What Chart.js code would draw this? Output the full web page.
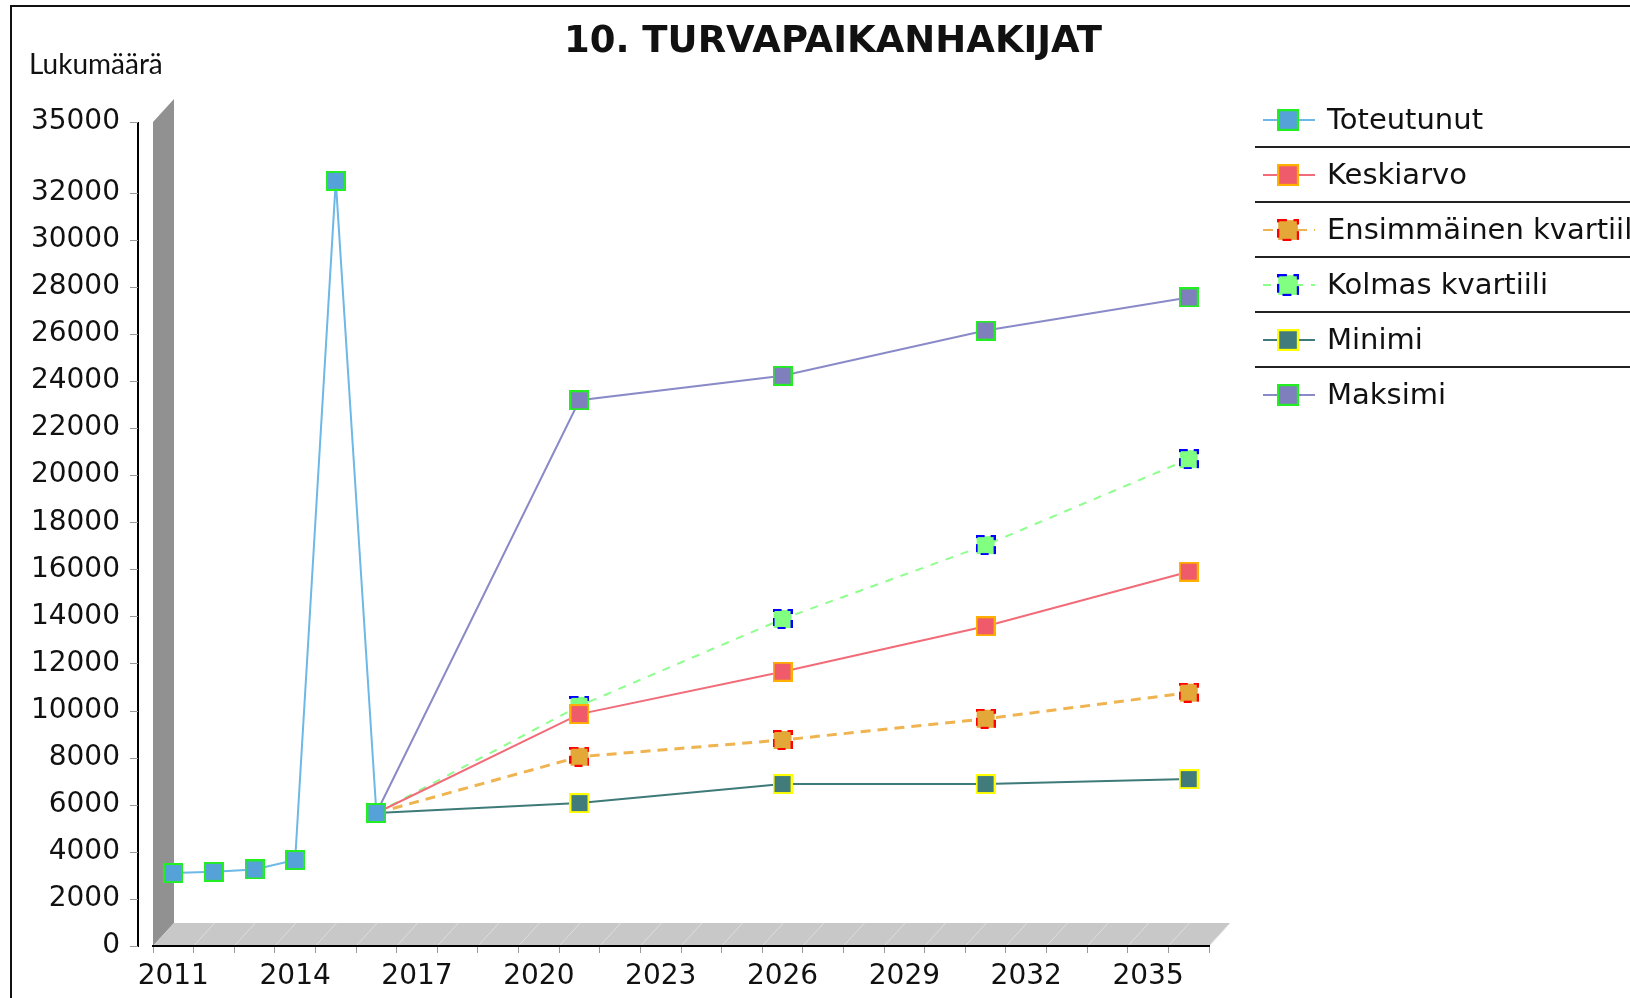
<!DOCTYPE html>
<html>
<head>
<meta charset="utf-8">
<title>10. Turvapaikanhakijat</title>
<script src="https://cdn.jsdelivr.net/npm/chart.js@4.4.1/dist/chart.umd.min.js"></script>
<style>
  html, body { margin: 0; padding: 0; background: #fff; }
  #wrap { width: 1630px; height: 998px; }
</style>
</head>
<body>
<div id="wrap"><canvas id="chart" width="1630" height="998"></canvas></div>
<script>
// Vuodet (kategoriat) ja y-akselin jaotus
var vuodet = ['2011', '2012', '2013', '2014', '2015', '2016', '2017', '2018', '2019', '2020',
              '2021', '2022', '2023', '2024', '2025', '2026', '2027', '2028', '2029', '2030',
              '2031', '2032', '2033', '2034', '2035', '2036'];
var yTicks = [0, 2000, 4000, 6000, 8000, 10000, 12000, 14000, 16000, 18000, 20000,
              22000, 24000, 26000, 28000, 30000, 32000, 35000];

// Toteutunut
var toteutunutVuodet = ['2011', '2012', '2013', '2014', '2015', '2016'];
var toteutunut = [3100, 3150, 3250, 3650, 32500, 5650];

// Ennusteet (alkavat vuoden 2016 toteumasta)
var ennusteVuodet = ['2016', '2021', '2026', '2031', '2036'];
var keskiarvo = [5650, 9850, 11650, 13580, 15900];
var ensimmainenKvartiili = [5650, 8040, 8750, 9650, 10760];
var kolmasKvartiili = [5650, 10200, 13890, 17030, 20680];
var minimi = [5650, 6070, 6880, 6880, 7090];
var maksimi = [5650, 23180, 24220, 26140, 27550];

function pisteet(xs, ys) {
    return xs.map(function (x, i) { return { x: x, y: ys[i] }; });
}

// neliömerkki omaksi pieneksi kuvakseen, jotta reuna voi olla katkoviivaa
function merkki(tayte, reuna, katko) {
    var m = document.createElement('canvas');
    m.width = 20; m.height = 20;
    var g = m.getContext('2d');
    g.fillStyle = tayte;
    g.fillRect(1, 1, 18, 18);
    g.strokeStyle = reuna;
    g.lineWidth = 2;
    g.setLineDash(katko);
    g.strokeRect(1, 1, 18, 18);
    return m;
}

function sarja(nimi, data, viiva, tayte, reuna, leveys, katko, merkkiKatko) {
    return {
        label: nimi,
        data: data,
        borderColor: viiva,
        borderWidth: leveys,
        borderDash: katko,
        pointStyle: merkki(tayte, reuna, merkkiKatko),
        pointRadius: 10,
        pointHoverRadius: 10,
        pointBackgroundColor: tayte,
        pointBorderColor: reuna,
        tension: 0,
        fill: false
    };
}

// 3D-seinä ja -lattia sekä erillinen y-akselin viiva
var kolmiulotteinen = {
    id: 'kolmiulotteinen',
    beforeDraw: function (chart) {
        var c = chart.ctx, a = chart.chartArea;
        var dx = 21, dy = 23;
        c.save();
        // seinä
        c.fillStyle = '#919191';
        c.beginPath();
        c.moveTo(a.left, a.top);
        c.lineTo(a.left + dx, a.top - dy);
        c.lineTo(a.left + dx, a.bottom - dy);
        c.lineTo(a.left, a.bottom);
        c.closePath();
        c.fill();
        // lattia
        c.fillStyle = '#c8c8c8';
        c.beginPath();
        c.moveTo(a.left, a.bottom);
        c.lineTo(a.left + dx, a.bottom - dy);
        c.lineTo(a.right + dx, a.bottom - dy);
        c.lineTo(a.right, a.bottom);
        c.closePath();
        c.fill();
        // lattian raidat
        c.strokeStyle = '#dedede';
        c.lineWidth = 1;
        var n = vuodet.length, w = (a.right - a.left) / n;
        for (var i = 1; i <= n; i++) {
            var x = a.left + i * w;
            c.beginPath();
            c.moveTo(x, a.bottom);
            c.lineTo(x + dx, a.bottom - dy);
            c.stroke();
        }
        c.restore();
    },
    afterDraw: function (chart) {
        var c = chart.ctx, s = chart.scales.y;
        var ax = 138;
        c.save();
        c.strokeStyle = '#000';
        c.lineWidth = 2;
        c.beginPath();
        c.moveTo(ax, s.getPixelForValue(35000));
        c.lineTo(ax, s.getPixelForValue(0) + 1);
        c.stroke();
        c.strokeStyle = '#999';
        c.lineWidth = 1;
        yTicks.forEach(function (v) {
            var y = Math.round(s.getPixelForValue(v)) + 0.5;
            c.beginPath();
            c.moveTo(ax - 8, y);
            c.lineTo(ax, y);
            c.stroke();
        });
        c.restore();
    }
};

// Otsikot, kehys ja selite
var otsikot = {
    id: 'otsikot',
    afterDraw: function (chart) {
        var c = chart.ctx;
        c.save();
        // kehys
        c.strokeStyle = '#111';
        c.lineWidth = 2;
        c.beginPath();
        c.moveTo(11, 1200);
        c.lineTo(11, 6);
        c.lineTo(1700, 6);
        c.stroke();

        c.fillStyle = '#111';
        c.textBaseline = 'middle';
        c.textAlign = 'center';
        c.font = 'bold 37px "DejaVu Sans"';
        c.fillText('10. TURVAPAIKANHAKIJAT', 833, 42);

        c.textAlign = 'left';
        c.font = '28px Lato';
        c.fillText('Lukumäärä', 29, 65);

        // selite
        c.font = '29px "DejaVu Sans"';
        chart.data.datasets.forEach(function (ds, i) {
            var y = 120 + 55 * i;
            c.strokeStyle = ds.borderColor;
            c.lineWidth = 2;
            c.setLineDash(ds.borderDash || []);
            c.beginPath();
            c.moveTo(1263, y);
            c.lineTo(1315, y);
            c.stroke();
            c.setLineDash([]);
            c.drawImage(ds.pointStyle, 1277, y - 11, 22, 22);
            c.fillStyle = '#111';
            c.fillText(ds.label, 1327, y + 1);
            if (i < chart.data.datasets.length - 1) {
                c.strokeStyle = '#222';
                c.lineWidth = 2;
                c.beginPath();
                c.moveTo(1255, y + 27);
                c.lineTo(1630, y + 27);
                c.stroke();
            }
        });
        c.restore();
    }
};

var ctx = document.getElementById('chart').getContext('2d');
var chart = new Chart(ctx, {
    type: 'line',
    data: {
        labels: vuodet,
        datasets: [
            sarja('Toteutunut', pisteet(toteutunutVuodet, toteutunut), '#6cb8e6', '#55a2d8', '#22ee22', 2, [], []),
            sarja('Keskiarvo', pisteet(ennusteVuodet, keskiarvo), '#f26b78', '#ef5b6b', '#ffb000', 2, [], []),
            sarja('Ensimmäinen kvartiili', pisteet(ennusteVuodet, ensimmainenKvartiili), '#efb350', '#e4a838', '#ff0000', 3, [10, 7], [8, 6]),
            sarja('Kolmas kvartiili', pisteet(ennusteVuodet, kolmasKvartiili), '#8cff8c', '#80ff80', '#0000ff', 2, [8, 8], [8, 6]),
            sarja('Minimi', pisteet(ennusteVuodet, minimi), '#3d7a78', '#417b7b', '#ffff00', 2, [], []),
            sarja('Maksimi', pisteet(ennusteVuodet, maksimi), '#8a8ac8', '#7f7fbe', '#22ee22', 2, [], [])
        ]
    },
    options: {
        responsive: false,
        animation: false,
        layout: { padding: { top: 122, right: 421, bottom: 0, left: 0 } },
        plugins: {
            legend: { display: false },
            title: { display: false },
            tooltip: { enabled: false }
        },
        scales: {
            x: {
                type: 'category',
                offset: true,
                grid: { display: true, offset: true, drawOnChartArea: false, drawTicks: true, tickLength: 7, color: '#999', lineWidth: 1 },
                border: { display: true, color: '#000', width: 2 },
                ticks: {
                    autoSkip: false,
                    maxRotation: 0,
                    padding: 7,
                    color: '#111',
                    font: { family: 'DejaVu Sans', size: 28 },
                    callback: function (val) {
                        var v = this.getLabelForValue(val);
                        return (Number(v) - 2011) % 3 === 0 ? v : '';
                    }
                },
                afterFit: function (s) { s.height = 52; }
            },
            y: {
                min: 0,
                max: 35000,
                grid: { display: false, drawTicks: false },
                border: { display: false },
                ticks: {
                    padding: 33,
                    color: '#111',
                    font: { family: 'DejaVu Sans', size: 28 },
                    callback: function (v) { return String(v); }
                },
                afterBuildTicks: function (s) {
                    s.ticks = yTicks.map(function (v) { return { value: v }; });
                },
                afterFit: function (s) { s.width = 153; }
            }
        }
    },
    plugins: [kolmiulotteinen, otsikot]
});
</script>
</body>
</html>
